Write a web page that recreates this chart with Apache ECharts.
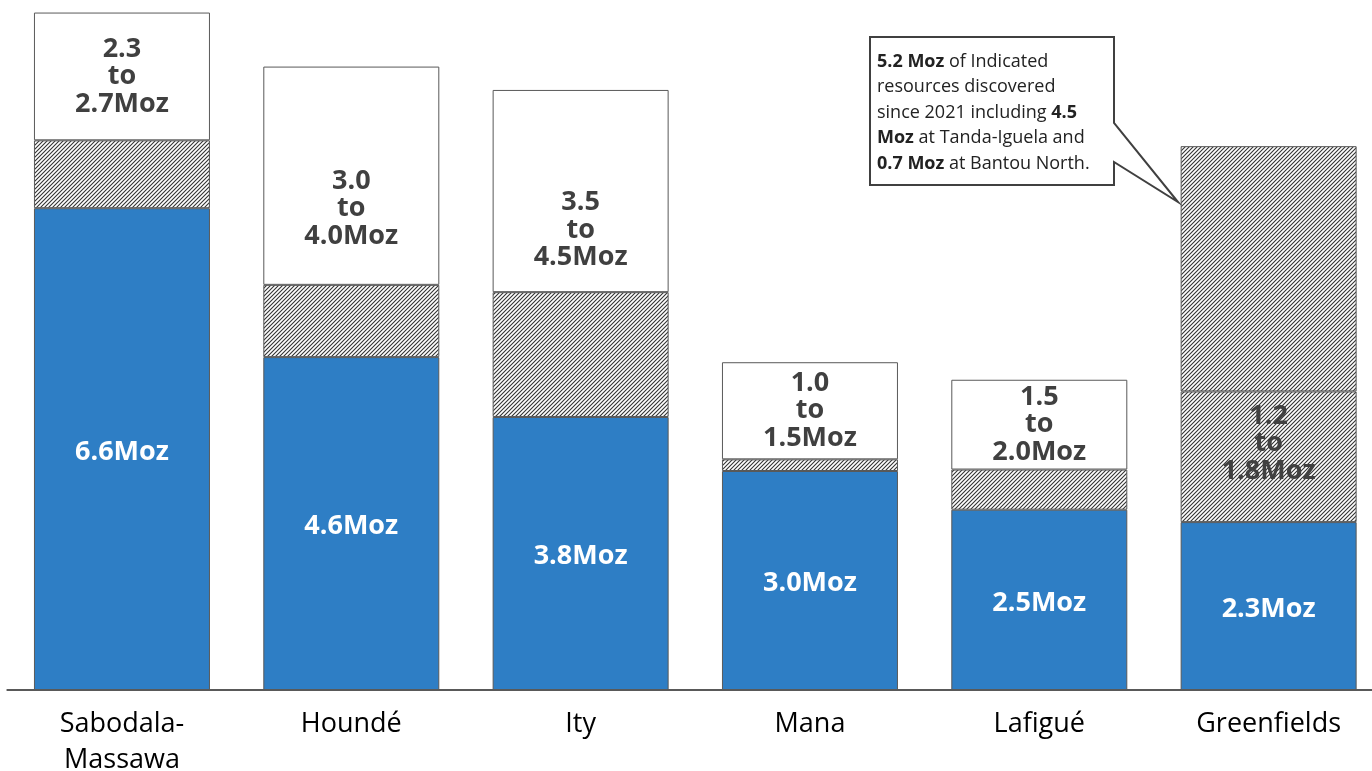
<!DOCTYPE html>
<html>
<head>
<meta charset="utf-8">
<script src="https://cdn.jsdelivr.net/npm/echarts@6/dist/echarts.min.js"></script>
<style>
html,body{margin:0;padding:0;background:#fff;}
#chart{width:1372px;height:771px;}
</style>
</head>
<body>
<div id="chart"></div>
<script>
// ---- data ----
const categories = ['Sabodala-\nMassawa', 'Houndé', 'Ity', 'Mana', 'Lafigué', 'Greenfields'];
const currentResources = [6.6, 4.56, 3.74, 3.0, 2.47, 2.3];
const indicatedResources = [0.93, 0.99, 1.71, 0.16, 0.55, 1.79];
const targetRange = [1.75, 2.99, 2.77, 1.33, 1.23, null];
const greenfieldsDiscovered = [null, null, null, null, null, 3.36];
const currentLabels = ['6.6Moz', '4.6Moz', '3.8Moz', '3.0Moz', '2.5Moz', '2.3Moz'];
const rangeLabels = ['2.3\nto\n2.7Moz', '3.0\nto\n4.0Moz', '3.5\nto\n4.5Moz', '1.0\nto\n1.5Moz', '1.5\nto\n2.0Moz', '1.2\nto\n1.8Moz'];
const calloutText = '{b|5.2 Moz} of Indicated\nresources discovered\nsince 2021 including {b|4.5}\n{b|Moz} at Tanda-Iguela and\n{b|0.7 Moz} at Bantou North.';

// ---- styles ----
const FONT = '"Open Sans", "Noto Sans", sans-serif';
const BLUE = '#2E7EC5';
const BORDER = '#595959';
const labelShift = { 'Houndé': 33, 'Ity': 39, 'Greenfields': -13 };

function hatch() {
  const s = 4;
  const c = document.createElement('canvas');
  c.width = s; c.height = s;
  const g = c.getContext('2d');
  g.fillStyle = '#fff'; g.fillRect(0, 0, s, s);
  g.strokeStyle = '#333'; g.lineWidth = 1.1;
  g.beginPath();
  g.moveTo(-1, s + 1); g.lineTo(s + 1, -1);
  g.moveTo(-1, 1); g.lineTo(1, -1);
  g.moveTo(s - 1, s + 1); g.lineTo(s + 1, s - 1);
  g.stroke();
  return { image: c, repeat: 'repeat' };
}
const HATCH = hatch();

const rangeText = { fontFamily: FONT, fontSize: 27, fontWeight: 'bold', color: '#404040', lineHeight: 27.5 };

const chart = echarts.init(document.getElementById('chart'), null, { renderer: 'canvas' });
chart.setOption({
  animation: false,
  backgroundColor: '#fff',
  grid: { left: 7.3, top: 0, width: 1376, height: 690, outerBoundsMode: 'none', containLabel: false },
  xAxis: {
    type: 'category',
    data: categories,
    axisLine: { lineStyle: { color: BORDER, width: 2 } },
    axisTick: { show: false },
    axisLabel: { fontFamily: FONT, fontSize: 27, color: '#000', lineHeight: 36, margin: 16, interval: 0 }
  },
  yAxis: { type: 'value', min: 0, max: 690 / 73, show: false, splitLine: { show: false } },
  series: [
    {
      type: 'bar', stack: 's', barWidth: 176,
      data: currentResources,
      itemStyle: { color: BLUE, borderColor: BORDER, borderWidth: 1 },
      label: { show: true, position: 'inside', offset: [0, 3], fontFamily: FONT, fontSize: 27, fontWeight: 'bold', color: '#fff',
        formatter: p => currentLabels[p.dataIndex] }
    },
    {
      type: 'bar', stack: 's', barWidth: 176,
      data: indicatedResources.map((v, i) => targetRange[i] == null ? {
        value: v,
        label: Object.assign({ show: true, position: 'inside', offset: [0, labelShift[categories[i]] || 0],
          formatter: rangeLabels[i] }, rangeText)
      } : v),
      itemStyle: { color: HATCH, borderColor: BORDER, borderWidth: 1 },
      label: { show: false }
    },
    {
      type: 'bar', stack: 's', barWidth: 176,
      data: targetRange.map((v, i) => v == null ? null : {
        value: v,
        label: Object.assign({ show: true, position: 'inside', offset: [0, labelShift[categories[i]] || 0],
          formatter: rangeLabels[i] }, rangeText)
      }),
      itemStyle: { color: '#fff', borderColor: BORDER, borderWidth: 1 }
    },
    {
      type: 'bar', stack: 's', barWidth: 176,
      data: greenfieldsDiscovered,
      itemStyle: { color: HATCH, borderColor: BORDER, borderWidth: 1 }
    }
  ],
  graphic: [
    {
      type: 'polygon',
      shape: { points: [[870, 37], [1114, 37], [1114, 123], [1178, 202], [1114, 162], [1114, 185], [870, 185]] },
      style: { fill: '#fff', stroke: '#404040', lineWidth: 2 },
      z: 100
    },
    {
      type: 'text',
      left: 877, top: 49,
      z: 101,
      style: {
        text: calloutText,
        fontFamily: FONT, fontSize: 18, lineHeight: 25.5, fill: '#222',
        rich: { b: { fontFamily: FONT, fontSize: 18, fontWeight: 'bold', lineHeight: 25.5, fill: '#222' } }
      }
    }
  ]
});
</script>
</body>
</html>
